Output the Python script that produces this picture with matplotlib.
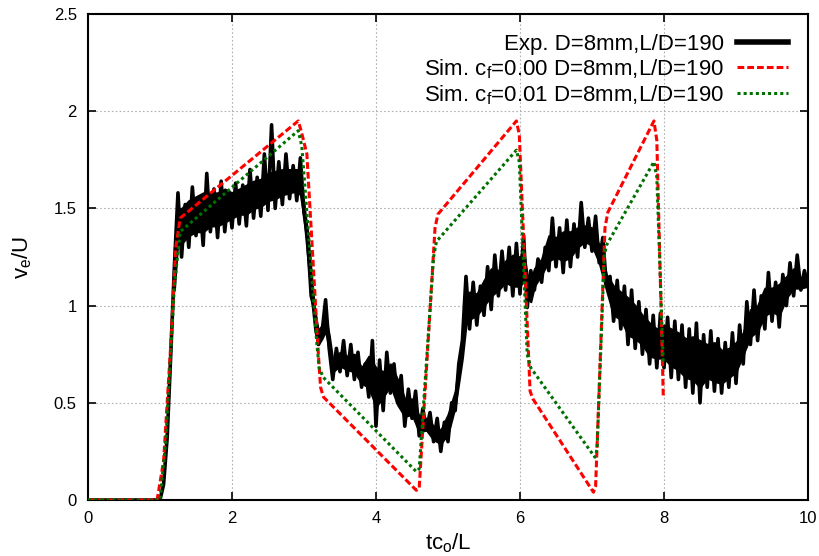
import matplotlib.pyplot as plt
import numpy as np

plt.rcParams['font.family'] = ['Liberation Sans', 'DejaVu Sans']

# experiment: flat part, rise, then spike tips read every 0.05 from t=1.25
exp_t0 = [0.0, 1.0, 1.05, 1.1, 1.15, 1.2]
exp_v0 = [0.0, 0.0, 0.08, 0.32, 0.75, 1.2]
exp_v1 = [
    1.58, 1.25, 1.52, 1.30, 1.61, 1.36, 1.55, 1.31, 1.68, 1.38,
    1.60, 1.35, 1.64, 1.38, 1.58, 1.40, 1.63, 1.42, 1.62, 1.41,
    1.70, 1.45, 1.66, 1.46, 1.78, 1.49, 1.93, 1.50, 1.74, 1.52,
    1.78, 1.55, 1.72, 1.54, 1.76, 1.48, 1.35, 1.05, 0.98, 0.80,
    0.86, 1.03, 0.78, 0.62, 0.78, 0.66, 0.82, 0.64, 0.80, 0.62,
    0.76, 0.58, 0.70, 0.53, 0.82, 0.38, 0.72, 0.46, 0.76, 0.55,
    0.70, 0.50, 0.64, 0.38, 0.57, 0.42, 0.56, 0.33, 0.47, 0.36,
    0.45, 0.30, 0.42, 0.25, 0.40, 0.30, 0.50, 0.46, 0.70, 0.82,
    1.15, 0.88, 1.12, 0.90, 1.10, 0.95, 1.20, 0.98, 1.26, 1.05,
    1.28, 1.08, 1.30, 1.05, 1.32, 1.06, 1.36, 0.99, 1.18, 1.08,
    1.24, 1.12, 1.30, 1.18, 1.45, 1.20, 1.40, 1.17, 1.44, 1.20,
    1.42, 1.25, 1.53, 1.30, 1.45, 1.28, 1.46, 1.22, 1.35, 1.10,
    1.15, 0.92, 1.13, 0.88, 1.10, 0.80, 1.08, 0.78, 1.02, 0.75,
    0.98, 0.70, 0.95, 0.68, 0.96, 0.68, 0.94, 0.63, 0.92, 0.62,
    0.90, 0.58, 0.88, 0.55, 0.91, 0.50, 0.85, 0.58, 0.87, 0.56,
    0.83, 0.55, 0.81, 0.58, 0.86, 0.60, 0.90, 0.70, 1.02, 0.80,
    1.08, 0.82, 1.05, 0.88, 1.17, 0.92, 1.12, 0.89, 1.16, 1.00,
    1.22, 1.05, 1.26, 1.08, 1.18, 1.10,
]
exp_t1 = list(np.round(np.arange(1.25, 10.001, 0.05), 2))

# solid core of the noisy band (upper / lower edge)
band_t = [1.20, 1.25, 1.30, 1.40, 1.50, 1.60, 1.70, 1.80, 1.90, 2.00,
          2.10, 2.20, 2.30, 2.40, 2.50, 2.60, 2.70, 2.80, 2.90, 2.95,
          3.00, 3.05, 3.10, 3.15, 3.20, 3.25, 3.30, 3.35, 3.40, 3.50,
          3.60, 3.70, 3.80, 3.90, 4.00, 4.10, 4.20, 4.30, 4.40, 4.50,
          4.60, 4.70, 4.80, 4.90, 5.00, 5.10, 5.20, 5.25, 5.30, 5.40,
          5.50, 5.60, 5.70, 5.80, 5.90, 6.00, 6.05, 6.10, 6.15, 6.20,
          6.30, 6.40, 6.50, 6.60, 6.70, 6.80, 6.90, 7.00, 7.10, 7.20,
          7.30, 7.40, 7.50, 7.60, 7.70, 7.80, 7.90, 8.00, 8.10, 8.20,
          8.30, 8.40, 8.50, 8.60, 8.70, 8.80, 8.90, 9.00, 9.10, 9.20,
          9.30, 9.40, 9.50, 9.60, 9.70, 9.80, 9.90, 10.0]
band_hi = [1.30, 1.50, 1.50, 1.54, 1.56, 1.58, 1.58, 1.58, 1.60, 1.58,
           1.60, 1.62, 1.64, 1.65, 1.68, 1.69, 1.70, 1.70, 1.70, 1.68,
           1.52, 1.38, 1.17, 0.97, 0.87, 0.90, 0.94, 0.85, 0.72, 0.76,
           0.74, 0.75, 0.68, 0.74, 0.68, 0.66, 0.70, 0.62, 0.52, 0.52,
           0.43, 0.42, 0.38, 0.36, 0.44, 0.56, 0.85, 1.06, 1.07, 1.06,
           1.13, 1.19, 1.18, 1.23, 1.26, 1.25, 1.28, 1.16, 1.13, 1.19,
           1.24, 1.36, 1.35, 1.38, 1.38, 1.40, 1.41, 1.40, 1.31, 1.16,
           1.10, 1.07, 1.04, 1.00, 0.95, 0.91, 0.88, 0.90, 0.88, 0.86,
           0.83, 0.84, 0.82, 0.80, 0.81, 0.77, 0.78, 0.81, 0.86, 0.98,
           1.00, 1.09, 1.09, 1.11, 1.15, 1.19, 1.14, 1.14]
band_lo = [1.08, 1.34, 1.32, 1.36, 1.38, 1.38, 1.41, 1.41, 1.43, 1.45,
           1.47, 1.47, 1.50, 1.51, 1.54, 1.55, 1.57, 1.58, 1.59, 1.57,
           1.45, 1.25, 1.05, 0.87, 0.80, 0.83, 0.87, 0.77, 0.66, 0.69,
           0.67, 0.66, 0.60, 0.58, 0.48, 0.53, 0.59, 0.49, 0.43, 0.44,
           0.35, 0.36, 0.31, 0.29, 0.34, 0.48, 0.73, 0.90, 0.93, 0.95,
           1.00, 1.05, 1.08, 1.12, 1.10, 1.10, 1.13, 1.04, 1.02, 1.10,
           1.16, 1.23, 1.25, 1.23, 1.25, 1.30, 1.33, 1.31, 1.22, 1.08,
           0.95, 0.93, 0.85, 0.83, 0.80, 0.74, 0.73, 0.73, 0.69, 0.67,
           0.63, 0.62, 0.58, 0.63, 0.61, 0.60, 0.63, 0.66, 0.75, 0.84,
           0.87, 0.95, 0.97, 0.95, 1.04, 1.09, 1.09, 1.10]

# simulation cf = 0.00
sim0_t = [0.0, 0.96, 1.05, 1.15, 1.22, 1.28, 2.92, 2.96, 3.04, 3.20, 3.23, 3.27,
          4.56, 4.60, 4.82, 4.86, 5.95, 5.99, 6.14, 6.18, 7.02, 7.05, 7.18, 7.22,
          7.86, 7.90, 7.99]
sim0_v = [0.0, 0.0, 0.2, 0.8, 1.3, 1.45, 1.95, 1.90, 1.78, 0.75, 0.58, 0.53,
          0.05, 0.06, 1.40, 1.47, 1.95, 1.88, 0.56, 0.52, 0.04, 0.07, 1.40, 1.48,
          1.95, 1.85, 0.53]

# simulation cf = 0.01
sim1_t = [0.0, 1.0, 1.08, 1.20, 1.28, 2.92, 2.97, 3.18, 3.21, 3.27,
          4.56, 4.60, 4.80, 4.84, 5.95, 5.99, 6.10, 6.15, 7.04, 7.07, 7.17, 7.20,
          7.86, 7.90, 7.99]
sim1_v = [0.0, 0.0, 0.3, 1.1, 1.38, 1.90, 1.82, 0.80, 0.68, 0.63,
          0.146, 0.16, 1.25, 1.33, 1.80, 1.74, 0.75, 0.68, 0.22, 0.26, 1.25, 1.31,
          1.74, 1.66, 0.70]

xticks = [0, 2, 4, 6, 8, 10]
yticks = [0, 0.5, 1, 1.5, 2, 2.5]
ytick_labels = ['0', '0.5', '1', '1.5', '2', '2.5']

fig = plt.figure(figsize=(8.19, 5.56), dpi=100)
ax = fig.add_axes([0.1074, 0.1007, 0.8792, 0.8741])

exp_t = exp_t0 + exp_t1
exp_v = exp_v0 + exp_v1
ax.fill_between(band_t, band_lo, band_hi, color='black', lw=1.5, zorder=2)
ax.plot(exp_t, exp_v, color='black', lw=2.6,
        label='Exp. D=8mm,L/D=190', zorder=2)
ax.plot(sim0_t, sim0_v, color='#ff0000', lw=2.2, ls=(0, (2.2, 1.0)),
        label=r'Sim. $\mathregular{c_f}$=0.00 D=8mm,L/D=190', zorder=3)
ax.plot(sim1_t, sim1_v, color='#007000', lw=2.2, ls=(0, (1.0, 1.0)),
        label=r'Sim. $\mathregular{c_f}$=0.01 D=8mm,L/D=190', zorder=4)

ax.set_xlim(0, 10)
ax.set_ylim(0, 2.5)
ax.set_xticks(xticks)
ax.set_yticks(yticks)
ax.set_yticklabels(ytick_labels)
ax.tick_params(direction='in', length=6, width=1.2, top=True, right=True,
               labelsize=12, pad=8)
ax.grid(True, color='#b0b0b0', ls=(0, (1.5, 2)), lw=0.8)
for s in ax.spines.values():
    s.set_linewidth(1.5)

ax.set_xlabel(r'$\mathregular{tc_o}$/L', fontsize=16, labelpad=4)
ax.set_ylabel(r'$\mathregular{v_e}$/U', fontsize=16, labelpad=14)

leg = ax.legend(loc='upper right', frameon=False, markerfirst=False,
                fontsize=16, handlelength=2.3, handletextpad=0.6,
                labelspacing=0.1, borderaxespad=0.5)
leg.legend_handles[0].set_linewidth(4)

fig.savefig('out.png', dpi=100)
